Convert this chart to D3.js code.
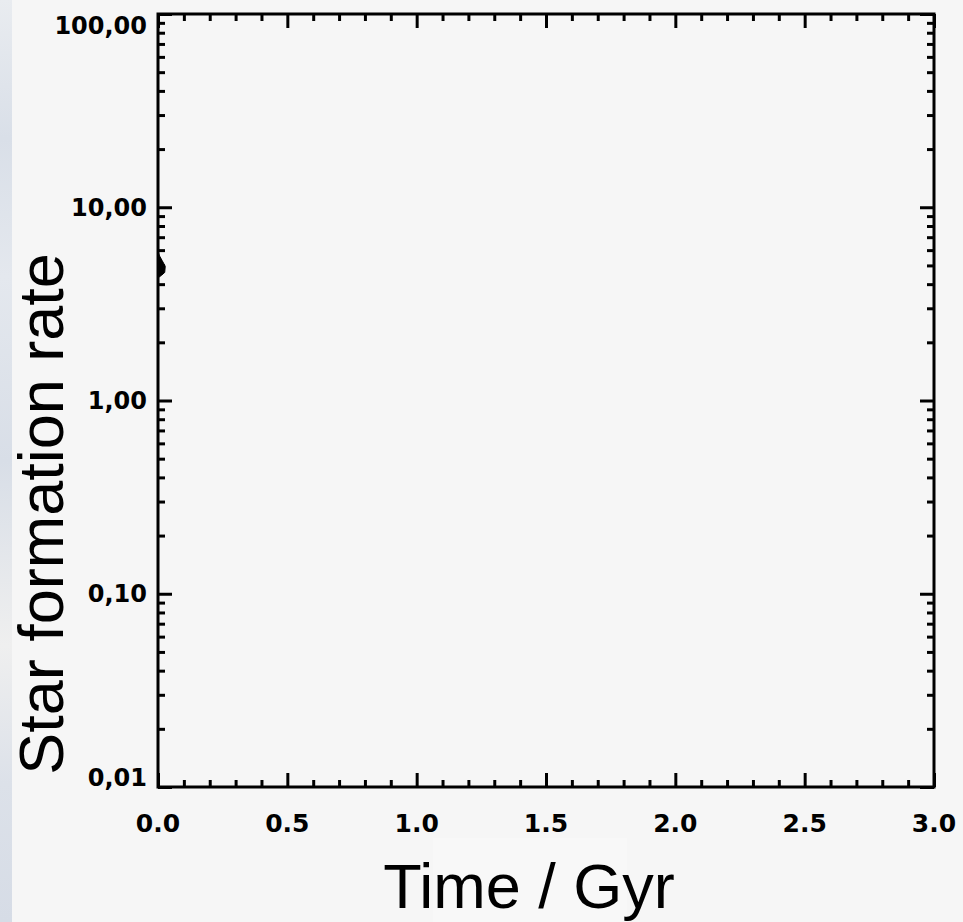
<!DOCTYPE html>
<html>
<head>
<meta charset="utf-8">
<script src="https://cdn.jsdelivr.net/npm/d3@7"></script>
<style>
  body { margin: 0; background: #f6f6f6; }
  svg { display: block; }
</style>
</head>
<body>
<div id="chart"></div>
<script>
// axis ticks
const xMajor = [0, 0.5, 1.0, 1.5, 2.0, 2.5, 3.0];
const xLabels = ["0.0", "0.5", "1.0", "1.5", "2.0", "2.5", "3.0"];
const yMajor = [0.01, 0.1, 1, 10, 100];
const yLabels = ["0,01", "0,10", "1,00", "10,00", "100,00"];

// star formation rate trace (only a sliver near t = 0 is visible)
const sfrTime = [0, 0.006, 0.016, 0.028, 0.026, 0.014, 0.004, 0];
const sfrRate = [5.9, 5.6, 5.3, 4.95, 4.6, 4.45, 4.35, 4.3];

const width = 963, height = 922;
const plotLeft = 158, plotRight = 934, plotTop = 14, plotBottom = 787;

const svg = d3.select("#chart").append("svg")
    .attr("width", width)
    .attr("height", height);

svg.append("rect")
    .attr("width", width)
    .attr("height", height)
    .attr("fill", "#f6f6f6");

// bluish strip of the slide background on the far left
const grad = svg.append("defs").append("linearGradient")
    .attr("id", "strip")
    .attr("x1", 0).attr("y1", 0).attr("x2", 0).attr("y2", 1);
[["0", "#e9ecf0"], ["0.15", "#d9dfe8"], ["0.3", "#e4e8ee"], ["0.5", "#d8dee7"],
 ["0.7", "#efefef"], ["0.85", "#dce1e9"], ["1", "#d6dce6"]].forEach(s => {
    grad.append("stop").attr("offset", s[0]).attr("stop-color", s[1]);
});
svg.append("rect")
    .attr("width", 12)
    .attr("height", height)
    .attr("fill", "url(#strip)");

svg.append("rect")
    .attr("x", 433).attr("y", 838)
    .attr("width", 194).attr("height", 84)
    .attr("fill", "#f8f8f8");

const x = d3.scaleLinear().domain([0, 3]).range([plotLeft, plotRight]);
const y = d3.scaleLog().domain([0.01, 100]).range([plotBottom, plotTop]);

const xMinor = d3.range(1, 30).filter(i => i % 5 !== 0).map(i => i / 10);
const yMinor = [];
[0.01, 0.1, 1, 10].forEach(d => {
    for (let k = 2; k <= 9; k++) yMinor.push(d * k);
});

function drawTicks(axis, tx, ty) {
    const g = svg.append("g")
        .attr("transform", "translate(" + tx + "," + ty + ")")
        .call(axis);
    g.select(".domain").remove();
    g.selectAll("text").remove();
    g.selectAll("line").attr("stroke", "#000").attr("stroke-width", 3);
}

drawTicks(d3.axisLeft(y).tickValues(yMinor).tickSize(-7), plotLeft, 0);
drawTicks(d3.axisLeft(y).tickValues(yMajor).tickSize(-14), plotLeft, 0);
drawTicks(d3.axisRight(y).tickValues(yMinor).tickSize(-7), plotRight, 0);
drawTicks(d3.axisRight(y).tickValues(yMajor).tickSize(-14), plotRight, 0);
drawTicks(d3.axisBottom(x).tickValues(xMinor).tickSize(-7), 0, plotBottom);
drawTicks(d3.axisBottom(x).tickValues(xMajor).tickSize(-14), 0, plotBottom);
drawTicks(d3.axisTop(x).tickValues(xMinor).tickSize(-7), 0, plotTop);
drawTicks(d3.axisTop(x).tickValues(xMajor).tickSize(-14), 0, plotTop);

// data
const pts = sfrTime.map((t, i) => [x(t), y(sfrRate[i])]);
svg.append("path")
    .attr("d", d3.line()(pts) + "Z")
    .attr("fill", "#000")
    .attr("stroke", "#000")
    .attr("stroke-width", 1);

// frame
svg.append("rect")
    .attr("x", plotLeft).attr("y", plotTop)
    .attr("width", plotRight - plotLeft).attr("height", plotBottom - plotTop)
    .attr("fill", "none")
    .attr("stroke", "#000")
    .attr("stroke-width", 3);

// tick labels
const labelFont = "'DejaVu Sans', sans-serif";
svg.append("g").selectAll("text")
    .data(yMajor)
    .join("text")
    .attr("x", 147)
    .attr("y", d => Math.min(Math.max(y(d), plotTop + 11), plotBottom - 10))
    .attr("dy", "0.36em")
    .attr("text-anchor", "end")
    .attr("font-family", labelFont)
    .attr("font-weight", "bold")
    .attr("font-size", 24)
    .text((d, i) => yLabels[i]);

svg.append("g").selectAll("text")
    .data(xMajor)
    .join("text")
    .attr("x", d => x(d))
    .attr("y", 832)
    .attr("text-anchor", "middle")
    .attr("font-family", labelFont)
    .attr("font-weight", "bold")
    .attr("font-size", 25)
    .text((d, i) => xLabels[i]);

// axis titles
svg.append("text")
    .attr("x", 529)
    .attr("y", 908)
    .attr("text-anchor", "middle")
    .attr("font-family", "'Liberation Sans', Arial, sans-serif")
    .attr("font-size", 63)
    .text("Time / Gyr");

svg.append("text")
    .attr("transform", "translate(63,514) rotate(-90)")
    .attr("text-anchor", "middle")
    .attr("font-family", "'Liberation Sans', Arial, sans-serif")
    .attr("font-size", 63)
    .text("Star formation rate");
</script>
</body>
</html>
